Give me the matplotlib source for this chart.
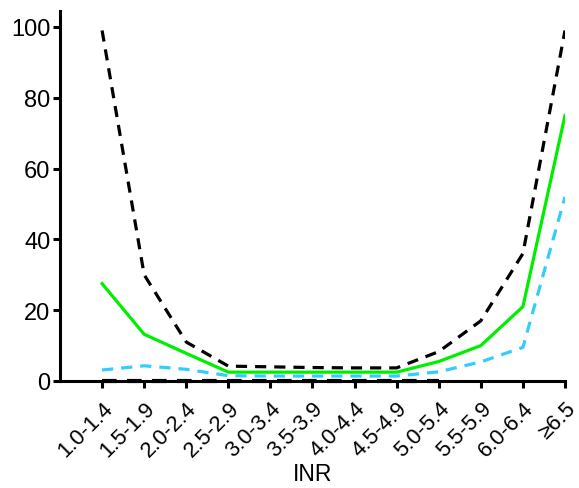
import matplotlib
matplotlib.use("Agg")
import matplotlib.pyplot as plt

plt.rcParams['font.family'] = ['Liberation Sans', 'DejaVu Sans']

# INR categories
categories = ['1.0-1.4', '1.5-1.9', '2.0-2.4', '2.5-2.9', '3.0-3.4', '3.5-3.9',
              '4.0-4.4', '4.5-4.9', '5.0-5.4', '5.5-5.9', '6.0-6.4', '\u22656.5']

# Series
upper = [99, 30, 11, 4.2, 4.0, 3.8, 3.7, 3.7, 8.3, 17, 36, 99]
estimate = [27.5, 13.2, 7.8, 2.5, 2.5, 2.5, 2.5, 2.5, 5.5, 10, 21, 75]
blue = [3.1, 4.3, 3.3, 1.5, 1.4, 1.4, 1.4, 1.4, 2.6, 5.4, 9.5, 52]
lower = [0, 0, 0, 0, 0, 0, 0, 0, 0]

x = list(range(len(categories)))

fig = plt.figure(figsize=(5.79, 4.89), dpi=100)
ax = fig.add_axes([60 / 579, 1 - 382 / 489, (565 - 60) / 579, (382 - 12) / 489])

lw = 2.3
ax.plot(x, upper, color='black', lw=lw, dashes=(3.5, 2.5))
ax.plot(x, blue, color='#33CCFF', lw=lw, dashes=(3.5, 2.5))
ax.plot(x, estimate, color='#00EE00', lw=lw)
# zero line drawn over the axis spine
ax.plot(x[:len(lower)], lower, color='black', lw=3.0, dashes=(3.5, 2.5),
        clip_on=False, zorder=5)

ax.set_xlim(-1, 11)
ax.set_ylim(0, 104.5)
ax.set_yticks([0, 20, 40, 60, 80, 100])
ax.set_xticks(x)
ax.set_xticklabels(categories, rotation=45, ha='right', rotation_mode='anchor')

for s in ['top', 'right']:
    ax.spines[s].set_visible(False)
for s in ['left', 'bottom']:
    ax.spines[s].set_linewidth(2.2)

ax.tick_params(axis='both', width=2.2, length=5, pad=2)
ax.tick_params(axis='y', labelsize=17)
ax.tick_params(axis='x', labelsize=15.8, pad=7)
ax.set_xlabel('INR', fontsize=16.5, labelpad=1)

fig.savefig('out.png', dpi=100)
